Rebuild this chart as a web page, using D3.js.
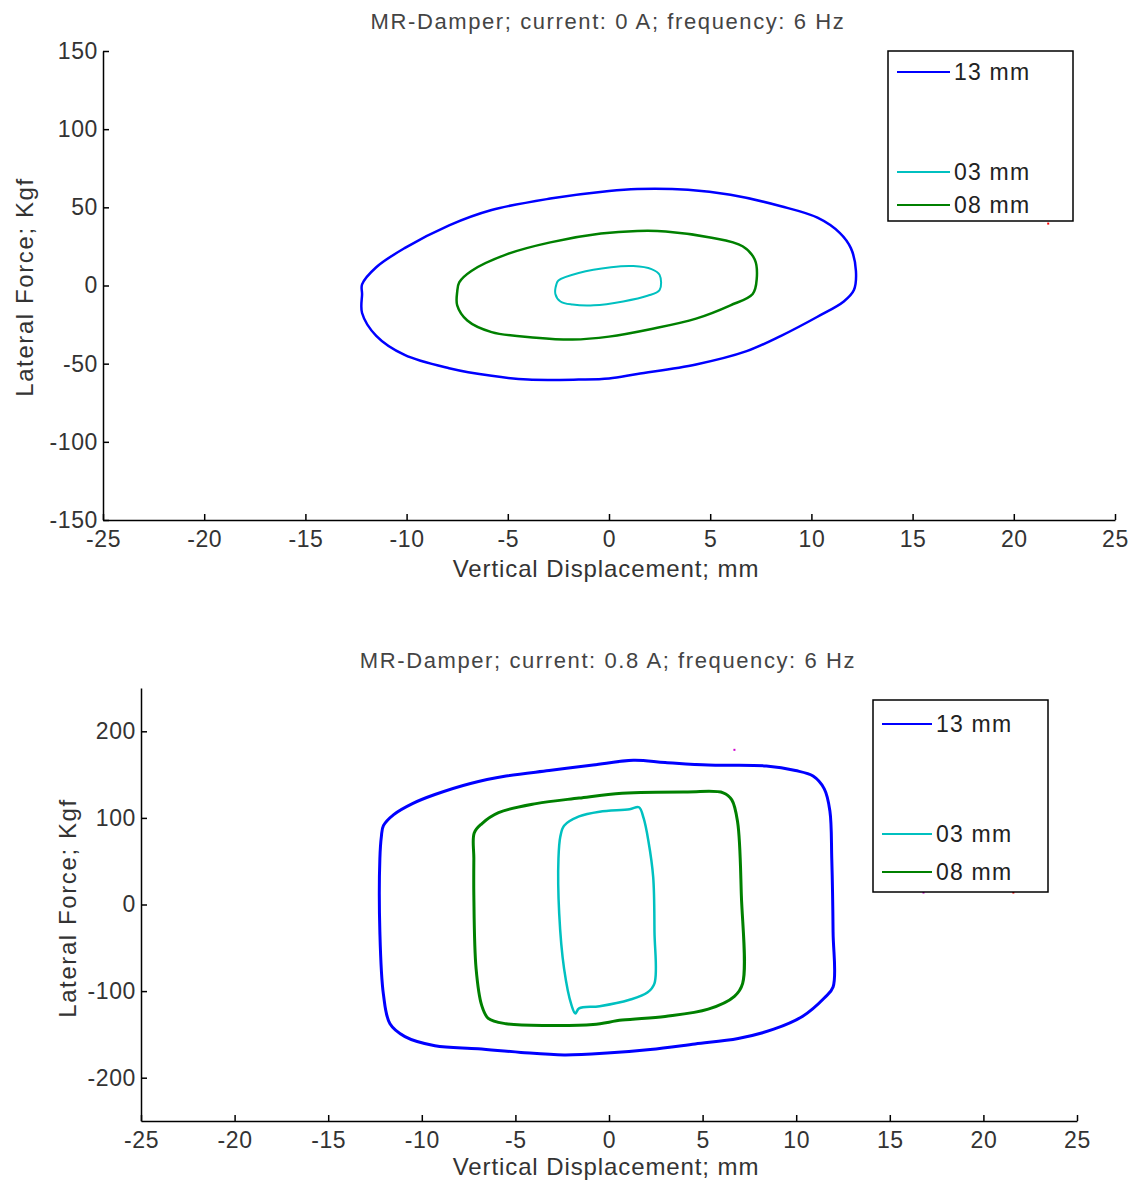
<!DOCTYPE html>
<html>
<head>
<meta charset="utf-8">
<script src="https://cdn.jsdelivr.net/npm/d3@7"></script>
<style>
  body { margin: 0; background: #fff; }
  svg text { font-family: "Liberation Sans", Arial, sans-serif; }
</style>
</head>
<body>
<div id="plots"></div>
<script>
// ---- data (x: mm, y: Kgf) ----
var legendLabels = ["13 mm", "03 mm", "08 mm"];
var loopColors = ["#0000ff", "#00c0c0", "#008000"];

var xTicks = [-25, -20, -15, -10, -5, 0, 5, 10, 15, 20, 25];
var yTicksTop = [-150, -100, -50, 0, 50, 100, 150];
var yTicksBottom = [-200, -100, 0, 100, 200];

// current 0 A
var top13 = [[-12.2, 0.7], [-11.5, 11.7], [-10.1, 23.9], [-7.9, 38.5], [-5.8, 48.3], [-2.9, 55.6],
  [0, 60.5], [1.4, 61.7], [3.9, 61.2], [6.0, 58], [8.5, 50.7], [10.3, 43.4], [11.4, 33.7],
  [11.95, 23.9], [12.2, 9.3], [12.1, -2.9], [11.6, -10.2], [10.3, -20], [8.5, -32.2],
  [6.8, -42], [4.3, -50.5], [1.4, -56.6], [0, -59.5], [-1.5, -60.2], [-4.0, -60.2],
  [-5.8, -57.8], [-7.9, -52.9], [-10.1, -44.4], [-11.5, -32.2], [-12.2, -17.6], [-12.2, -5.4]];
var top03 = [[-2.6, 0.7], [-2.5, 3.2], [-1.5, 8], [0.1, 11.7], [1.2, 12.4], [2.1, 10.5],
  [2.5, 6.8], [2.5, -2.9], [1.9, -6.6], [0.7, -10.2], [-0.75, -12.7], [-1.8, -12.2],
  [-2.4, -10.2], [-2.65, -5.4]];
var top08 = [[-7.4, 2], [-6.8, 9.3], [-5.0, 20.2], [-2.9, 27.6], [-0.4, 33.2], [1.4, 34.9],
  [2.8, 34.6], [5.0, 30.7], [6.6, 25.1], [7.2, 16.6], [7.3, 4.4], [7.1, -5.4], [6.0, -12.7],
  [4.3, -21.2], [2.1, -27.8], [0, -32.7], [-1.8, -34.6], [-3.6, -33.4], [-5.8, -29.8],
  [-7.0, -22.4], [-7.5, -12.7], [-7.5, -4.1]];
var topStray = [[21.7, 39.6]];

// current 0.8 A
var bot13 = [[-12.05, 91], [-11.5, 103.8], [-10.5, 116.5], [-9.3, 127], [-7.4, 139.8],
  [-5.5, 148.3], [-3.2, 154.7], [-0.85, 161], [1.3, 166.5], [3.0, 164], [5.3, 161],
  [8.4, 160], [9.96, 154.7], [10.9, 148.3], [11.5, 133.5], [11.8, 108], [11.9, 53],
  [11.97, -31.8], [11.97, -95.3], [11.5, -108], [10.35, -129], [8.8, -144], [6.9, -154.7],
  [4.6, -161], [2.2, -167.4], [-0.1, -171.6], [-2.4, -173.7], [-4.7, -170.8], [-7.0, -166.5],
  [-9.3, -163], [-10.9, -152.5], [-11.7, -137.7], [-12.05, -103.8], [-12.24, -31.8],
  [-12.24, 53], [-12.16, 78.4]];
var bot03 = [[-2.6, 78.4], [-2.4, 91], [-1.6, 101.7], [-0.5, 107.2], [1.1, 110], [1.6, 112.3],
  [1.85, 99.6], [2.1, 74], [2.36, 31.8], [2.43, -31.8], [2.43, -91], [2.05, -101.7],
  [1.1, -110], [-0.5, -117.4], [-1.6, -120], [-1.8, -125.8], [-2.0, -116.5], [-2.4, -74],
  [-2.66, -10.6], [-2.7, 53]];
var bot08 = [[-7.2, 82.6], [-6.8, 93.2], [-5.9, 106], [-3.9, 116.5], [-1.6, 122.9], [0.7, 128.4],
  [4.2, 130], [6.1, 129], [6.56, 120.8], [6.87, 95.3], [7.07, 10.6], [7.14, -91], [6.7, -106],
  [5.3, -120.8], [3.0, -129.2], [0.7, -133.5], [-0.85, -138.6], [-3.2, -139.8], [-5.5, -137.7],
  [-6.45, -131.4], [-6.8, -116.5], [-7.1, -74], [-7.22, 10.6], [-7.22, 53]];
var botStray = [[6.7, 178.6], [16.8, 13.8], [21.6, 13.8]];

var svg = d3.select("#plots")
  .append("svg")
  .attr("width", 1134)
  .attr("height", 1180);

function drawPlot(opt) {
  var x = d3.scaleLinear().domain([-25, 25]).range([opt.left, opt.right]);
  var y = d3.scaleLinear().domain(opt.yDomain).range([opt.bottom, opt.top]);
  var g = svg.append("g");

  // title
  g.append("text")
    .attr("x", 608)
    .attr("y", opt.titleY)
    .attr("text-anchor", "middle")
    .attr("font-size", 22)
    .attr("letter-spacing", 1.6)
    .attr("fill", "#444")
    .text(opt.title);

  // axes, ticks pointing inward like matlab; plain hyphen for minus
  var fmt = function(d) { return String(d); };
  var xa = g.append("g")
    .attr("transform", "translate(0," + opt.bottom + ")")
    .call(d3.axisBottom(x).tickValues(xTicks).tickFormat(fmt).tickSize(-6).tickPadding(11).tickSizeOuter(0));
  var ya = g.append("g")
    .attr("transform", "translate(" + opt.left + ",0)")
    .call(d3.axisLeft(y).tickValues(opt.yTicks).tickFormat(fmt).tickSize(-6).tickPadding(5).tickSizeOuter(0));

  [xa, ya].forEach(function(a) {
    a.selectAll("path").attr("stroke", "#000").attr("stroke-width", 1.5);
    a.selectAll("line").attr("stroke", "#000").attr("stroke-width", 1.5);
    a.selectAll("text").attr("font-size", 23).attr("fill", "#333")
      .attr("letter-spacing", 0.6)
      .attr("font-family", "'Liberation Sans', Arial, sans-serif");
  });

  // axis labels
  g.append("text")
    .attr("x", 606)
    .attr("y", opt.xLabelY)
    .attr("text-anchor", "middle")
    .attr("font-size", 24)
    .attr("letter-spacing", 0.9)
    .attr("fill", "#333")
    .text("Vertical Displacement; mm");

  g.append("text")
    .attr("transform", "translate(" + opt.yLabelX + "," + opt.yLabelY + ") rotate(-90)")
    .attr("text-anchor", "middle")
    .attr("font-size", 24)
    .attr("letter-spacing", 1.6)
    .attr("fill", "#333")
    .text("Lateral Force; Kgf");

  // loops
  var line = d3.line()
    .x(function(d) { return x(d[0]); })
    .y(function(d) { return y(d[1]); })
    .curve(d3.curveCatmullRomClosed.alpha(0.5));

  opt.loops.forEach(function(loop, i) {
    g.append("path")
      .datum(loop)
      .attr("d", line)
      .attr("fill", "none")
      .attr("stroke", loopColors[i])
      .attr("stroke-width", opt.lineWidths[i]);
  });

  // stray samples
  g.selectAll(".stray")
    .data(opt.stray)
    .enter()
    .append("rect")
    .attr("x", function(d) { return x(d[0]) - 1; })
    .attr("y", function(d) { return y(d[1]) - 1; })
    .attr("width", 2)
    .attr("height", 2)
    .attr("fill", function(d, i) { return i == opt.stray.length - 1 ? "red" : "#d000d0"; });

  // legend
  var lg = g.append("g").attr("transform", "translate(" + opt.legend.x + "," + opt.legend.y + ")");
  lg.append("rect")
    .attr("width", opt.legend.w)
    .attr("height", opt.legend.h)
    .attr("fill", "#fff")
    .attr("stroke", "#000")
    .attr("stroke-width", 1.5);
  legendLabels.forEach(function(lab, i) {
    var ly = opt.legend.rows[i];
    lg.append("line")
      .attr("x1", 9).attr("x2", 9 + opt.legend.lineLen)
      .attr("y1", ly).attr("y2", ly)
      .attr("stroke", loopColors[i])
      .attr("stroke-width", 2);
    lg.append("text")
      .attr("x", 13 + opt.legend.lineLen)
      .attr("y", ly)
      .attr("dy", "0.36em")
      .attr("font-size", 23)
      .attr("letter-spacing", 1.2)
      .attr("fill", "#222")
      .text(lab);
  });
}

drawPlot({
  title: "MR-Damper; current: 0 A; frequency: 6 Hz",
  titleY: 29,
  left: 103, right: 1115, top: 51, bottom: 520,
  yDomain: [-150, 150], yTicks: yTicksTop,
  xLabelY: 577, yLabelX: 33, yLabelY: 287,
  loops: [top13, top03, top08],
  lineWidths: [2.5, 2, 2.5],
  stray: topStray,
  legend: {x: 888, y: 51, w: 185, h: 170, rows: [21, 121, 154], lineLen: 53}
});

drawPlot({
  title: "MR-Damper; current: 0.8 A; frequency: 6 Hz",
  titleY: 668,
  left: 141, right: 1077, top: 688, bottom: 1121,
  yDomain: [-250, 250], yTicks: yTicksBottom,
  xLabelY: 1175, yLabelX: 76, yLabelY: 908,
  loops: [bot13, bot03, bot08],
  lineWidths: [3, 2.5, 3],
  stray: botStray,
  legend: {x: 873, y: 700, w: 175, h: 192, rows: [24, 134, 172], lineLen: 50}
});
</script>
</body>
</html>
